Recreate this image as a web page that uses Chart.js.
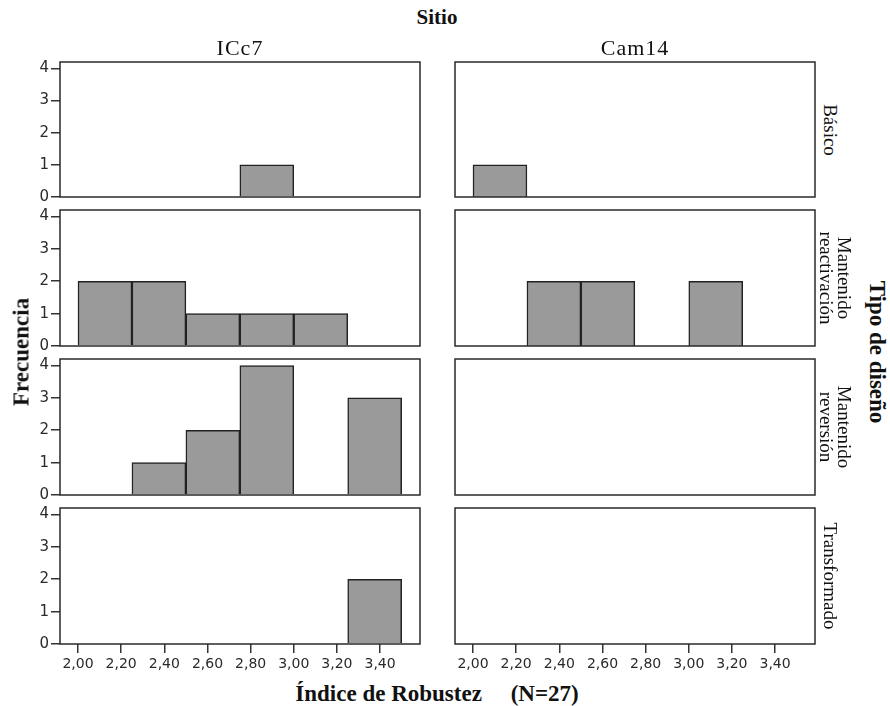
<!DOCTYPE html>
<html>
<head>
<meta charset="utf-8">
<script src="https://cdn.jsdelivr.net/npm/chart.js@4"></script>
<style>
  body { margin: 0; background: #fff; width: 890px; height: 706px; position: relative; overflow: hidden;
         font-family: 'Liberation Serif', 'Times New Roman', serif; color: #111; }
  canvas { position: absolute; }
  .lbl { position: absolute; white-space: pre; transform: translate(-50%, -50%); line-height: 1; }
  .rot { text-align: center; line-height: 18px; }
</style>
</head>
<body>
<div id="wrap"></div>
<script>
// --- datos ---
const binEdges = [2.00, 2.25, 2.50, 2.75, 3.00, 3.25, 3.50];
const binCenters = [2.125, 2.375, 2.625, 2.875, 3.125, 3.375];
const xTickValues = [2.00, 2.20, 2.40, 2.60, 2.80, 3.00, 3.20, 3.40];
const yTickValues = [0, 1, 2, 3, 4];

const siteLabels = ['ICc7', 'Cam14'];
const designLabels = ['Básico', 'Mantenido\nreactivación', 'Mantenido\nreversión', 'Transformado'];

// frecuencias por sitio y tipo de diseño
const icc7Basico = [0, 0, 0, 1, 0, 0];
const icc7Reactivacion = [2, 2, 1, 1, 1, 0];
const icc7Reversion = [0, 1, 2, 4, 0, 3];
const icc7Transformado = [0, 0, 0, 0, 0, 2];
const cam14Basico = [1, 0, 0, 0, 0, 0];
const cam14Reactivacion = [0, 2, 2, 0, 2, 0];
const cam14Reversion = [0, 0, 0, 0, 0, 0];
const cam14Transformado = [0, 0, 0, 0, 0, 0];

const panelCounts = [
    [icc7Basico, cam14Basico],
    [icc7Reactivacion, cam14Reactivacion],
    [icc7Reversion, cam14Reversion],
    [icc7Transformado, cam14Transformado]
];

// --- layout ---
const colAreas = [[60, 420], [455, 815]];
const rowAreas = [[62, 197], [210, 346], [359, 495], [508, 644]];
const X_MIN = 1.9166, X_MAX = 3.585, Y_MAX = 4.2;
const Y_AXIS_W = 42, X_AXIS_H = 32, PAD = 4;

Chart.defaults.font.family = "'DejaVu Sans', sans-serif";
Chart.defaults.font.size = 14;
Chart.defaults.color = '#2a2a2a';

const framePlugin = {
    id: 'frame',
    afterDraw(chart) {
        const { ctx, chartArea: a } = chart;
        ctx.save();
        ctx.strokeStyle = '#2a2a2a';
        ctx.lineWidth = 1.5;
        ctx.strokeRect(a.left, a.top, a.right - a.left, a.bottom - a.top);
        ctx.restore();
    }
};

const wrap = document.getElementById('wrap');

function makePanel(row, col) {
    const [aLeft, aRight] = colAreas[col];
    const [aTop, aBottom] = rowAreas[row];
    const showY = col === 0;
    const showX = row === rowAreas.length - 1;

    const left = aLeft - (showY ? Y_AXIS_W : PAD);
    const width = (aRight + PAD) - left;
    const top = aTop - PAD;
    const height = (aBottom - aTop) + PAD * 2 + (showX ? X_AXIS_H : 0);

    const canvas = document.createElement('canvas');
    canvas.width = width;
    canvas.height = height;
    canvas.style.left = left + 'px';
    canvas.style.top = top + 'px';
    wrap.appendChild(canvas);

    const counts = panelCounts[row][col];

    const scales = {
        x: {
            type: 'linear', min: X_MIN, max: X_MAX, display: false, offset: false,
            grid: { offset: false },
            afterBuildTicks: s => { s.ticks = binEdges.map(v => ({ value: v })); }
        },
        y: {
            type: 'linear', min: 0, max: Y_MAX, display: showY,
            afterBuildTicks: s => { s.ticks = yTickValues.map(v => ({ value: v })); },
            afterFit: s => {
                s.width = showY ? Y_AXIS_W : 0;
                s.paddingTop = 0; s.paddingBottom = 0;
            },
            grid: { drawOnChartArea: false, drawTicks: true, tickLength: 9, color: '#333', lineWidth: 1.5 },
            border: { display: false },
            ticks: { padding: 2, font: { size: 15 } }
        }
    };
    if (showX) {
        scales.x2 = {
            type: 'linear', position: 'bottom', min: X_MIN, max: X_MAX, offset: false,
            afterBuildTicks: s => { s.ticks = xTickValues.map(v => ({ value: v })); },
            afterFit: s => {
                s.height = X_AXIS_H;
                s.paddingLeft = 0; s.paddingRight = 0;
            },
            grid: { offset: false, drawOnChartArea: false, drawTicks: true, tickLength: 9, color: '#333', lineWidth: 1.5 },
            border: { display: false },
            ticks: { padding: 3, maxRotation: 0, autoSkip: false, callback: v => v.toFixed(2).replace('.', ',') }
        };
    }

    new Chart(canvas, {
        type: 'bar',
        data: {
            datasets: [{
                data: counts.map((c, i) => ({ x: binCenters[i], y: c || null })),
                backgroundColor: '#9a9a9a',
                borderColor: '#222',
                borderWidth: 1.5,
                barPercentage: 1,
                categoryPercentage: 1
            }]
        },
        options: {
            responsive: false,
            animation: false,
            layout: { autoPadding: false, padding: { top: PAD, bottom: PAD, left: showY ? 0 : PAD, right: PAD } },
            plugins: { legend: { display: false }, tooltip: { enabled: false } },
            scales
        },
        plugins: [framePlugin]
    });
}

for (let r = 0; r < rowAreas.length; r++) {
    for (let c = 0; c < colAreas.length; c++) makePanel(r, c);
}

// --- textos ---
function addLabel(text, x, y, style) {
    const d = document.createElement('div');
    d.className = 'lbl';
    d.textContent = text;
    d.style.left = x + 'px';
    d.style.top = y + 'px';
    Object.assign(d.style, style || {});
    document.body.appendChild(d);
    return d;
}

addLabel('Sitio', 437, 17, { fontWeight: 'bold', fontSize: '21px' });
siteLabels.forEach((s, i) => {
    const mid = (colAreas[i][0] + colAreas[i][1]) / 2;
    addLabel(s, mid, 48, { fontSize: '22px', letterSpacing: '1px' });
});
designLabels.forEach((s, i) => {
    const mid = (rowAreas[i][0] + rowAreas[i][1]) / 2;
    const x = s.includes('\n') ? 835 : 830;
    const d = addLabel(s, x, mid, { fontSize: '19px', transform: 'translate(-50%, -50%) rotate(90deg)' });
    d.classList.add('rot');
});
addLabel('Tipo de diseño', 877, 352, { fontWeight: 'bold', fontSize: '23px', transform: 'translate(-50%, -50%) rotate(90deg)' });
addLabel('Frecuencia', 21, 352, { fontWeight: 'bold', fontSize: '23px', transform: 'translate(-50%, -50%) rotate(-90deg)' });
addLabel('Índice de Robustez     (N=27)', 437, 693, { fontWeight: 'bold', fontSize: '23px' });
</script>
</body>
</html>
